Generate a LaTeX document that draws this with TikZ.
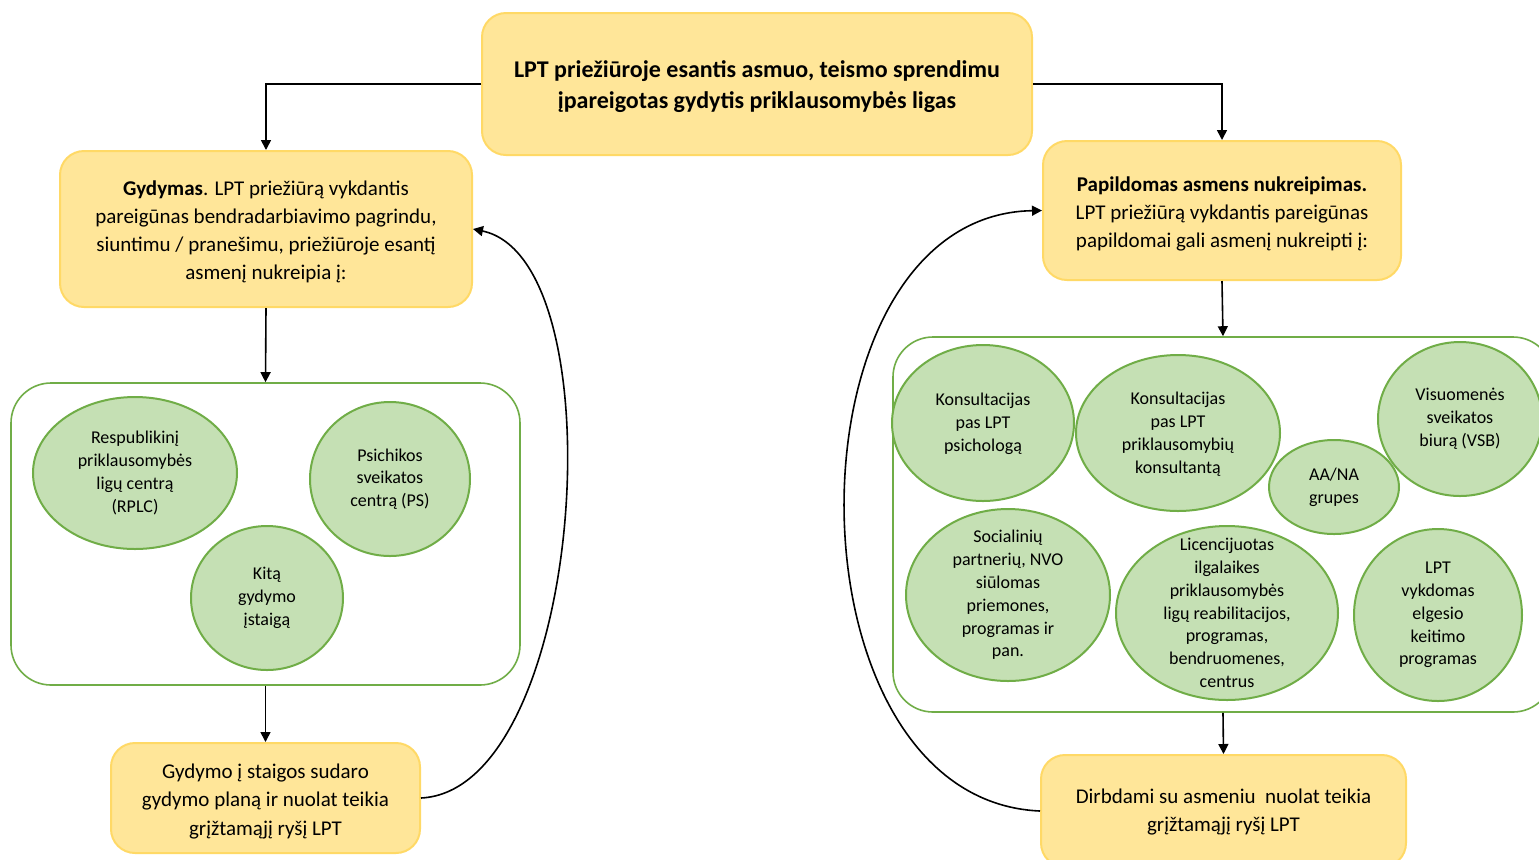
\documentclass[tikz,border=0pt]{standalone}
\usepackage{fontspec}
\setmainfont{Carlito}
\usetikzlibrary{arrows.meta,shapes.geometric}
\definecolor{yfill}{HTML}{FFE699}
\definecolor{yline}{HTML}{FFD966}
\definecolor{gfill}{HTML}{C5E0B4}
\definecolor{gline}{HTML}{70AD47}
\tikzset{
  ybox/.style={draw=yline, fill=yfill, line width=1pt, rounded corners=12pt, inner sep=0pt},
  ytext/.style={align=center, inner sep=0pt},
  gcont/.style={draw=gline, line width=0.8pt, rounded corners=20pt, inner sep=0pt},
  gell/.style={ellipse, draw=gline, fill=gfill, line width=1pt, inner sep=0pt},
  etext/.style={align=center, inner sep=0pt, font=\fontsize{9}{11.4}\selectfont},
  conn/.style={draw=black, line width=0.8pt, -{Triangle[length=5pt,width=5pt]}},
}
\begin{document}
\begin{tikzpicture}[x=0.5pt,y=-0.5pt]
\clip (0,0) rectangle (1539,859);
\fill[white] (0,0) rectangle (1539,859);

% yellow boxes
\node[ybox, minimum width=275pt, minimum height=71pt] (top) at (757,84) {};
\node[ytext, font=\bfseries\fontsize{12}{15.5}\selectfont] at ([yshift=-1.5pt]top.center)
  {LPT priežiūroje esantis asmuo, teismo sprendimu\\ įpareigotas gydytis priklausomybės ligas};
\node[ybox, minimum width=206pt, minimum height=78pt] (gyd) at (266,229) {};
\node[ytext, font=\fontsize{10.5}{14}\selectfont] at ([yshift=-1.5pt]gyd.center)
  {\textbf{Gydymas}. LPT priežiūrą vykdantis\\ pareigūnas bendradarbiavimo pagrindu,\\ siuntimu / pranešimu, priežiūroje esantį\\ asmenį nukreipia į:};
\node[ybox, minimum width=179pt, minimum height=69.5pt] (pap) at (1222,210.5) {};
\node[ytext, font=\fontsize{10.5}{14}\selectfont] at ([yshift=-1.5pt]pap.center)
  {\textbf{Papildomas asmens nukreipimas.}\\ LPT priežiūrą vykdantis pareigūnas\\ papildomai gali asmenį nukreipti į:};
\node[ybox, minimum width=154.5pt, minimum height=55pt] (bl) at (265.5,798) {};
\node[ytext, font=\fontsize{10.5}{14.25}\selectfont] at ([yshift=-1.5pt]bl.center)
  {Gydymo į staigos sudaro\\ gydymo planą ir nuolat teikia\\ grįžtamąjį ryšį LPT};
\node[ybox, minimum width=182.5pt, minimum height=56pt] (br) at (1223.5,811) {};
\node[ytext, font=\fontsize{10.5}{14}\selectfont] at ([yshift=-0.5pt]br.center)
  {Dirbdami su asmeniu \ nuolat teikia\\ grįžtamąjį ryšį LPT};

% green containers
\node[gcont, minimum width=254.5pt, minimum height=151pt] (lc) at (265.5,534) {};
\node[gcont, minimum width=330pt, minimum height=187.5pt] (rc) at (1223,524.5) {};

% left ellipses
\node[gell, minimum width=102pt, minimum height=76pt] (e1) at (135,473) {};
\node[etext] at (e1) {Respublikinį\\ priklausomybės\\ ligų centrą\\ (RPLC)};
\node[gell, minimum width=80pt, minimum height=77pt] (e2) at (390,479) {};
\node[etext] at (e2) {Psichikos\\ sveikatos\\ centrą (PS)};
\node[gell, minimum width=76pt, minimum height=72pt] (e3) at (267,598) {};
\node[etext] at (e3) {Kitą\\ gydymo\\ įstaigą};

% right ellipses
\node[gell, minimum width=91pt, minimum height=78pt] (r1) at (983,423) {};
\node[etext] at ([yshift=-0.5pt]r1.center) {Konsultacijas\\ pas LPT\\ psichologą};
\node[gell, minimum width=102pt, minimum height=78pt] (r2) at (1178,433) {};
\node[etext] at ([yshift=-0.5pt]r2.center) {Konsultacijas\\ pas LPT\\ priklausomybių\\ konsultantą};
\node[gell, minimum width=65pt, minimum height=47pt] (r3) at (1334,487) {};
\node[etext] at (r3) {AA/NA\\ grupes};
\node[gell, minimum width=82pt, minimum height=77pt] (r4) at (1460,419) {};
\node[etext] at (r4) {Visuomenės\\ sveikatos\\ biurą (VSB)};
\node[gell, minimum width=102pt, minimum height=86pt] (r5) at (1008,595) {};
\node[etext] at (r5) {Socialinių\\ partnerių, NVO\\ siūlomas\\ priemones,\\ programas ir\\ pan.};
\node[gell, minimum width=111pt, minimum height=87pt] (r6) at (1227,613) {};
\node[etext] at (r6) {Licencijuotas\\ ilgalaikes\\ priklausomybės\\ ligų reabilitacijos,\\ programas,\\ bendruomenes,\\ centrus};
\node[gell, minimum width=84pt, minimum height=86pt] (r7) at (1438,615) {};
\node[etext] at (r7) {LPT\\ vykdomas\\ elgesio\\ keitimo\\ programas};

% connectors
\draw[conn] (top.west) -| (gyd.north);
\draw[conn] (top.east) -| (pap.north);
\draw[conn] (gyd.south) -- (lc.north);
\draw[conn] (lc.south) -- (bl.north);
\draw[conn] (pap.south) -- (rc.north);
\draw[conn] (rc.south) -- (br.north);
\draw[conn] (bl.east) .. controls (585,790) and (620,260) .. (gyd.east);
\draw[conn] (br.west) .. controls (780,800) and (780,215) .. (pap.west);
\end{tikzpicture}
\end{document}
